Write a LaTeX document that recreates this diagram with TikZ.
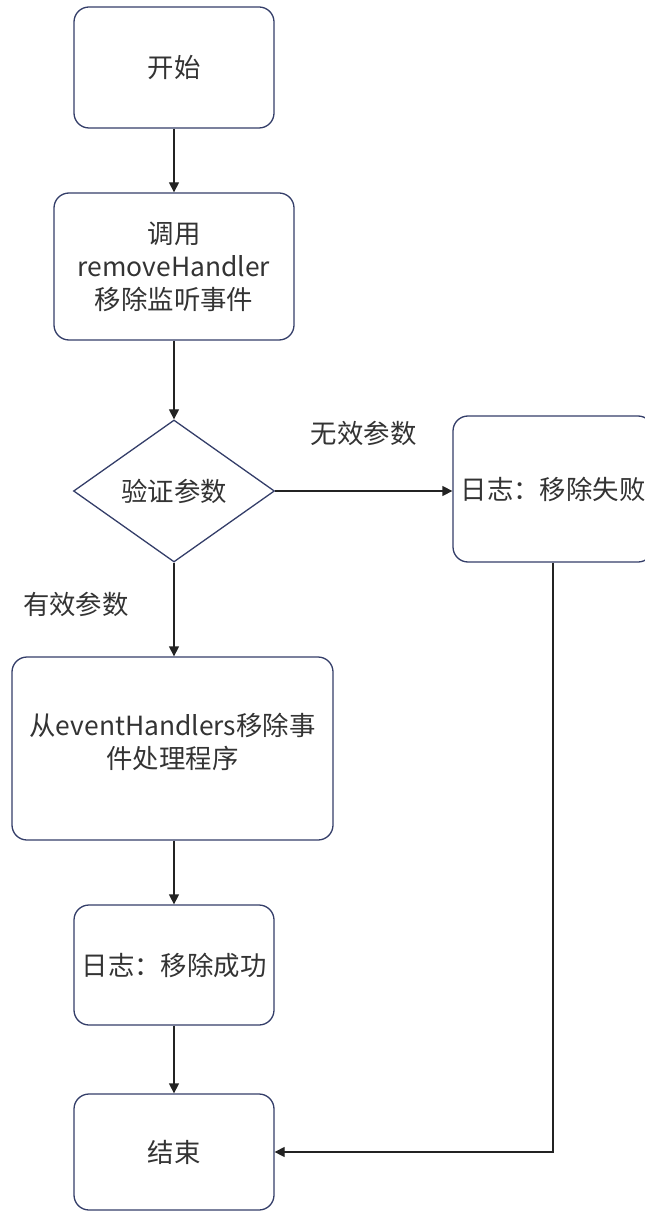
\documentclass[tikz,border=0pt]{standalone}
\usepackage{fontspec}
\setmainfont{Noto Sans CJK SC}
\usetikzlibrary{shapes.geometric,arrows.meta}
\definecolor{boxblue}{RGB}{52,62,105}
\definecolor{linegray}{RGB}{35,35,35}
\definecolor{textgray}{RGB}{51,51,51}

\begin{document}
\begin{tikzpicture}[x=0.5pt,y=-0.5pt,
  every node/.style={font=\fontsize{13.2}{16.5}\selectfont,text=textgray},
  box/.style={draw=boxblue,line width=0.65pt,rounded corners=7.5pt,align=center,inner sep=0pt},
  decision/.style={draw=boxblue,line width=0.65pt,diamond,aspect=1.4,inner sep=0pt,
    minimum width=100.5pt,minimum height=71pt},
  flow/.style={draw=linegray,line width=0.65pt,-{Triangle[length=5pt,width=5pt]}}]
\useasboundingbox (0,0) rectangle (644,1213);

\node[box,minimum width=100pt,minimum height=60.5pt] (start) at (174,67.5) {开始};
\node[box,minimum width=120pt,minimum height=73.5pt] (call) at (174,266.5)
  {调用\\removeHandler\\移除监听事件};
\node[decision] (check) at (174,491) {验证参数};
\node[box,minimum width=100pt,minimum height=73pt] (fail) at (553,489) {日志：移除失败};
\node[box,minimum width=160.5pt,minimum height=91.5pt] (remove) at (172.5,748.5)
  {从eventHandlers移除事\\件处理程序\\[-9pt]};
\node[box,minimum width=100pt,minimum height=60pt] (ok) at (174,965) {日志：移除成功};
\node[box,minimum width=100pt,minimum height=58pt] (end) at (174,1152) {结束};

\draw[flow] (start) -- (call);
\draw[flow] (call) -- (check);
\draw[flow] (check.east) -- node[above=19pt] (invalid) {无效参数} (fail.west |- check.east);
\draw[flow] (check.south) -- node[left=19pt,pos=0.45] (valid) {有效参数} (remove.north -| check.south);
\draw[flow] (remove.south -| ok.north) -- (ok);
\draw[flow] (ok) -- (end);
\draw[flow] (fail.south) |- (end.east);
\end{tikzpicture}
\end{document}
